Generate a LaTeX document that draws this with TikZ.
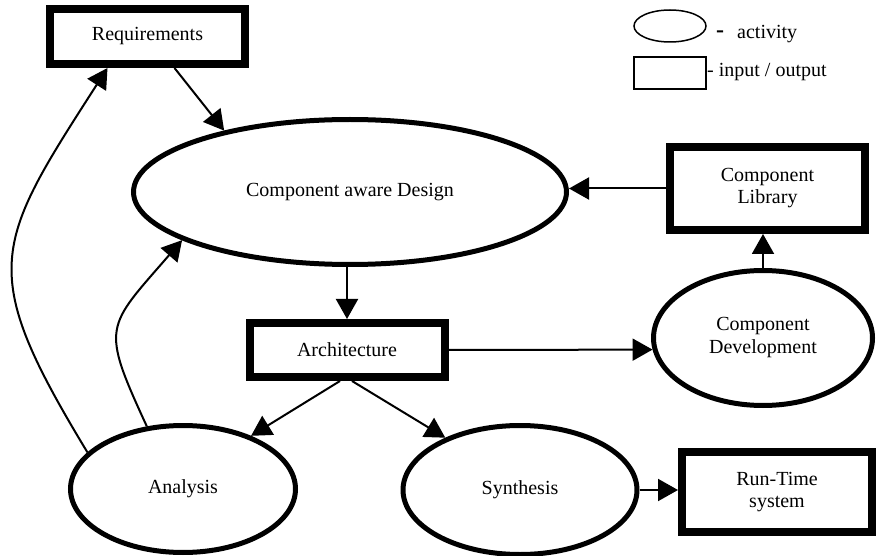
\documentclass[tikz,border=0pt]{standalone}
\usepackage{fontspec}
\setmainfont{Liberation Serif}
\usetikzlibrary{positioning,arrows.meta,shapes.geometric}

\begin{document}
\begin{tikzpicture}[x=1pt, y=-1pt,
    activityNode/.style={ellipse, draw=black, line width=5pt, fill=white, font=\fontsize{20}{23}\selectfont, align=center, inner sep=0pt},
    ioBox/.style={rectangle, draw=black, line width=8pt, fill=white, font=\fontsize{20}{22}\selectfont, align=center, inner sep=0pt},
    legendShape/.style={draw=black, line width=1.5pt, inner sep=0pt},
    legendText/.style={font=\fontsize{20}{22}\selectfont, anchor=west, inner sep=0pt},
    flowArrow/.style={-{Triangle[length=20pt, width=22pt]}, line width=2pt, draw=black}
]
    \useasboundingbox (0,0) rectangle (876,556);

    \node[ioBox, minimum width=195pt, minimum height=55pt] (req) at (147.5,36.5) {Requirements};

    \node[activityNode, minimum width=433pt, minimum height=145pt] (design) at (350,192) {Component aware Design};
    \node[ioBox, minimum width=195pt, minimum height=83pt] (lib) at (767.5,188.5) {Component\\Library};

    \node[ioBox, minimum width=195pt, minimum height=54pt] (arch) at (347,350) {Architecture};
    \node[activityNode, minimum width=219pt, minimum height=135pt] (dev) at (763,338) {Component\\Development};

    \node[activityNode, minimum width=225pt, minimum height=127pt] (ana) at (183,489) {Analysis};
    \node[activityNode, minimum width=234pt, minimum height=129pt] (syn) at (520,490) {Synthesis};
    \node[ioBox, minimum width=190pt, minimum height=80pt] (run) at (777,492) {Run-Time\\system};

    % legend
    \node[legendShape, ellipse, minimum width=72pt, minimum height=32pt] (legAct) at (670,26) {};
    \node[legendText, font=\fontsize{24}{24}\selectfont\bfseries] (legDash) at (716,34) {-};
    \node[legendText] (legActText) at (737,34) {activity};
    \node[legendShape, rectangle, minimum width=72pt, minimum height=32pt] (legIO) at (670,73) {};
    \node[legendText] (legIOText) at (707,72) {- input / output};

    \draw[flowArrow] ([xshift=27pt]req.south) -- (design.154);
    \draw[flowArrow] (lib.west) -- (lib.west -| design.east);
    \draw[flowArrow] (design.south -| arch.north) -- (arch.north);
    \draw[flowArrow] (dev.north) -- (dev.north |- lib.south);
    \draw[flowArrow] (arch.east) -- (dev.186);

    \draw[flowArrow] ([xshift=-7pt]arch.south) -- (ana.38);
    \draw[flowArrow] ([xshift=5pt]arch.south) -- (syn.145);
    \draw[flowArrow] (syn.east) -- (syn.east -| run.west);

    \draw[flowArrow] (ana.159) .. controls (-23,270) and (-7,246) .. ([xshift=-40pt]req.south);
    \draw[flowArrow] (ana.120) .. controls (100,325) and (106,328) .. (design.196);
\end{tikzpicture}
\end{document}
